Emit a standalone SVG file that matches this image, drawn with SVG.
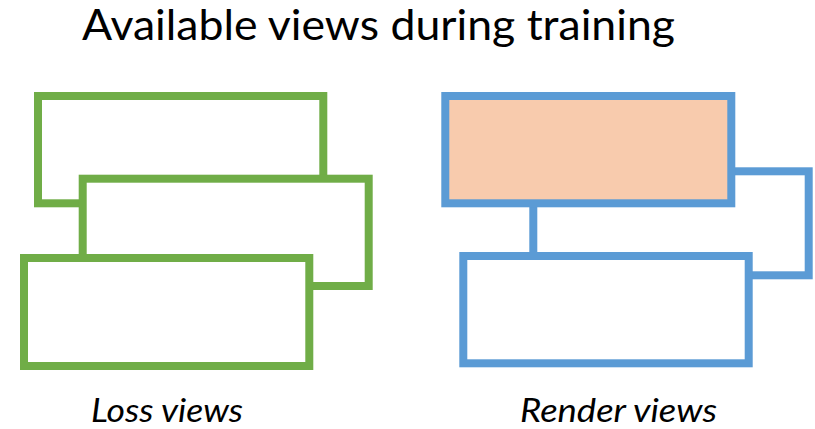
<svg xmlns="http://www.w3.org/2000/svg" width="815" height="429" viewBox="0 0 815 429">
<style>
.g{fill:#FFFFFF;stroke:#70AD47;stroke-width:8}
.b{fill:#FFFFFF;stroke:#5B9BD5;stroke-width:8}
.f{fill:#F8CBAD}
.t{font-family:Lato,"Open Sans",sans-serif;fill:#000000}
.l{font-family:Lato,"Open Sans",sans-serif;font-style:italic;fill:#000000;font-size:32px}
</style>
<rect width="815" height="429" fill="#FFFFFF"/>
<text class="t" x="82" y="40" font-size="42" textLength="593" lengthAdjust="spacingAndGlyphs">Available views during training</text>
<g id="loss-views">
<rect id="loss-view-1" class="g" x="38" y="96" width="285.3" height="107.3"/>
<rect id="loss-view-2" class="g" x="82.7" y="178.7" width="286" height="107.3"/>
<rect id="loss-view-3" class="g" x="24" y="258" width="285.3" height="108"/>
</g>
<g id="render-views">
<rect id="render-view-back" class="b" x="533.3" y="171.3" width="275.4" height="104"/>
<rect id="render-view-active" class="b f" x="445.3" y="96" width="286" height="107.3"/>
<rect id="render-view-front" class="b" x="463.3" y="256" width="285.4" height="107.3"/>
</g>
<g id="connectors"></g>
<text class="l" x="91" y="421.5" textLength="152" lengthAdjust="spacingAndGlyphs">Loss views</text>
<text class="l" x="520" y="421.5" textLength="197" lengthAdjust="spacingAndGlyphs">Render views</text>
</svg>
